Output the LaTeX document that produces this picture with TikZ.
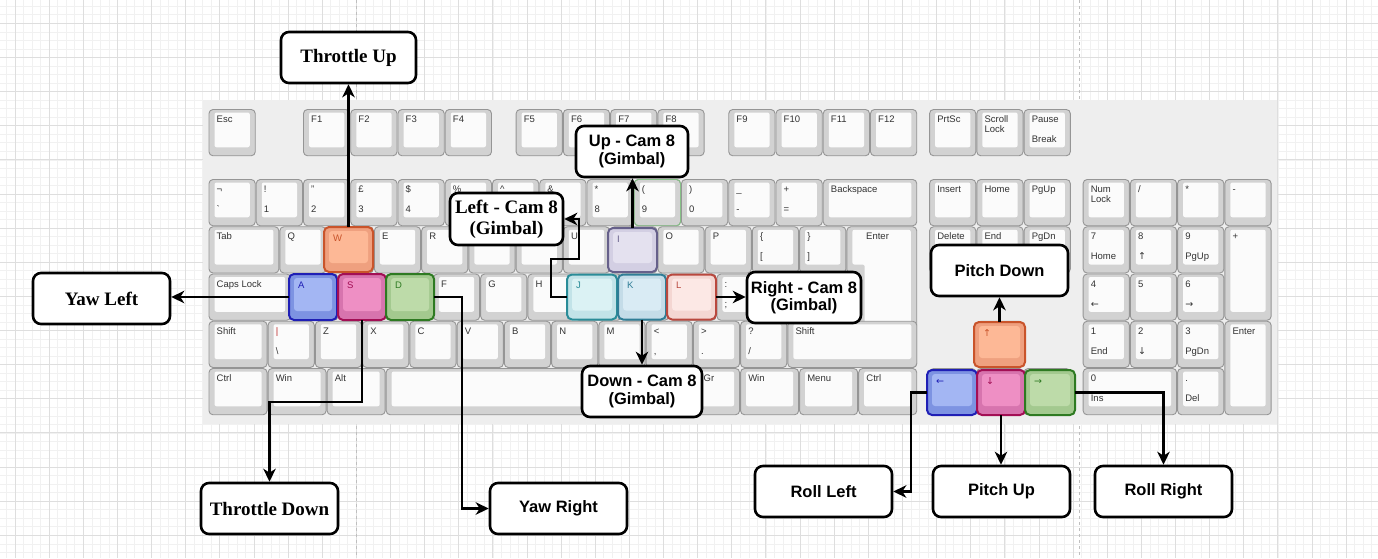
\documentclass[tikz,border=0pt]{standalone}
\usepackage{fontspec}
\setmainfont{Liberation Sans}
\newfontfamily\serifb{Liberation Serif}
\newfontfamily\arrfont{DejaVu Sans}
\usetikzlibrary{arrows.meta}
\definecolor{gmin}{HTML}{F1F1F1}
\definecolor{gmaj}{HTML}{DEDEDE}
\definecolor{kbbg}{HTML}{EEEEEE}
\definecolor{kfill}{HTML}{D2D2D2}
\definecolor{kline}{HTML}{959595}
\definecolor{kwhite}{HTML}{FBFBFB}
\definecolor{ktext}{HTML}{333333}
% highlight palettes
\definecolor{orB}{HTML}{C9542B}\definecolor{orO}{HTML}{EFA07F}\definecolor{orI}{HTML}{FDB896}
\definecolor{blB}{HTML}{1F1FB5}\definecolor{blO}{HTML}{7D93E2}\definecolor{blI}{HTML}{A3B6F3}
\definecolor{piB}{HTML}{A30F55}\definecolor{piO}{HTML}{D774AE}\definecolor{piI}{HTML}{EE8FC4}
\definecolor{grB}{HTML}{2E7A22}\definecolor{grO}{HTML}{A3C98F}\definecolor{grI}{HTML}{BDDBA9}
\definecolor{laB}{HTML}{66608A}\definecolor{laO}{HTML}{D3CFE3}\definecolor{laI}{HTML}{E4E1EF}
\definecolor{cyB}{HTML}{2A8C98}\definecolor{cyO}{HTML}{C2E3E8}\definecolor{cyI}{HTML}{DBF2F4}
\definecolor{skB}{HTML}{2F7D96}\definecolor{skO}{HTML}{C4DCE8}\definecolor{skI}{HTML}{D9EBF4}
\definecolor{rsB}{HTML}{B9483E}\definecolor{rsO}{HTML}{F4D6D2}\definecolor{rsI}{HTML}{FCE8E5}
\definecolor{ninegreen}{HTML}{86C086}
\definecolor{pipered}{HTML}{C03030}

\tikzset{
  gminor/.style={draw=gmin, line width=0.6pt},
  gmajor/.style={draw=gmaj, line width=0.8pt},
  kout/.style={rounded corners=4pt, fill=kfill, draw=kline, line width=0.9pt},
  kin/.style={rounded corners=2pt, fill=kwhite},
  klbl/.style={anchor=base west, inner sep=0pt, text=ktext, font=\fontsize{9.5}{10}\selectfont},
  conn/.style={line width=2.3pt, -{Stealth[length=13pt,width=12.5pt,inset=4pt]}},
  cbox/.style={draw=black, line width=2.6pt, rounded corners=8pt, fill=white, inner sep=0pt, align=center},
  sansb/.style={font=\fontsize{16.5}{17.5}\selectfont\bfseries},
  serb/.style={font=\serifb\bfseries\fontsize{19}{21}\selectfont},
}

% normal key: column (units), top y, width (units), height (units), top label, bottom label
\newcommand\K[6]{%
  \draw[kout] ({208.5+(#1)*47.25+0.5},{#2+0.5}) rectangle ({208.5+(#1+#3)*47.25-0.5},{#2+(#4)*47.25-0.5});
  \fill[kin] ({208.5+(#1)*47.25+6},{#2+3.5}) rectangle ({208.5+(#1+#3)*47.25-6},{#2+(#4)*47.25-9});
  \node[klbl] at ({208.5+(#1)*47.25+8},{#2+13.5}) {#5};
  \node[klbl] at ({208.5+(#1)*47.25+8},{#2+33.5}) {#6};}

% highlighted key: name, cx, cy, w, h, border, outer, inner, label
\newcommand\HK[9]{%
  \node[draw=#6, fill=#7, line width=2pt, rounded corners=5pt, minimum width=#4, minimum height=#5, inner sep=0pt, outer sep=0pt] (#1) at (#2,#3) {};
  \fill[#8, rounded corners=3pt] ([shift={(5,4)}]#1.north west) rectangle ([shift={(-5,-9)}]#1.south east);
  \node[klbl, text=#6] at ([shift={(9,14)}]#1.north west) {#9};}

\def\ra{109}
\def\rb{179}
\def\rc{226.25}
\def\rd{273.5}
\def\re{320.75}
\def\rf{368}

\begin{document}
\begin{tikzpicture}[x=1pt, y=-1pt]
\useasboundingbox (0,0) rectangle (1378,558);
\fill[white] (0,0) rectangle (1378,558);
% grid
\foreach \i in {0,...,160} \draw[gminor] ({6.47+\i*8.533},0) -- ++(0,558);
\foreach \i in {0,...,64} \draw[gminor] (0,{6.24+\i*8.533}) -- ++(1378,0);
\foreach \i in {0,...,39} \draw[gmajor] ({15+\i*34.13},0) -- ++(0,558);
\foreach \i in {0,...,15} \draw[gmajor] (0,{23.3+\i*34.13}) -- ++(1378,0);
% page break lines
\draw[draw=black!25, line width=0.8pt, dash pattern=on 3pt off 3pt] (356.7,0) -- (356.7,558);
\draw[draw=black!25, line width=0.8pt, dash pattern=on 3pt off 3pt] (1079,0) -- (1079,558);

% keyboard background
\fill[kbbg] (203,100) rectangle (1277,423.5);

% ---- function row
\K{0}{\ra}{1}{1}{Esc}{}
\K{2}{\ra}{1}{1}{F1}{}
\K{3}{\ra}{1}{1}{F2}{}
\K{4}{\ra}{1}{1}{F3}{}
\K{5}{\ra}{1}{1}{F4}{}
\K{6.5}{\ra}{1}{1}{F5}{}
\K{7.5}{\ra}{1}{1}{F6}{}
\K{8.5}{\ra}{1}{1}{F7}{}
\K{9.5}{\ra}{1}{1}{F8}{}
\K{11}{\ra}{1}{1}{F9}{}
\K{12}{\ra}{1}{1}{F10}{}
\K{13}{\ra}{1}{1}{F11}{}
\K{14}{\ra}{1}{1}{F12}{}
\K{15.25}{\ra}{1}{1}{PrtSc}{}
\K{16.25}{\ra}{1}{1}{Scroll}{}
\node[klbl] at ({208.5+16.25*47.25+8},{\ra+23.5}) {Lock};
\K{17.25}{\ra}{1}{1}{Pause}{Break}

% ---- number row
\K{0}{\rb}{1}{1}{¬}{\textasciigrave}
\K{1}{\rb}{1}{1}{!}{1}
\K{2}{\rb}{1}{1}{"}{2}
\K{3}{\rb}{1}{1}{£}{3}
\K{4}{\rb}{1}{1}{\$}{4}
\K{5}{\rb}{1}{1}{\%}{}
\K{6}{\rb}{1}{1}{\textasciicircum}{}
\K{7}{\rb}{1}{1}{\&}{}
\K{8}{\rb}{1}{1}{*}{8}
\K{9}{\rb}{1}{1}{(}{9}
\draw[rounded corners=4pt, draw=ninegreen, line width=0.9pt] ({208.5+9*47.25+0.5},{\rb+0.5}) rectangle ({208.5+10*47.25-0.5},{\rb+47.25-0.5});
\K{10}{\rb}{1}{1}{)}{0}
\K{11}{\rb}{1}{1}{\_}{-}
\K{12}{\rb}{1}{1}{+}{=}
\K{13}{\rb}{2}{1}{Backspace}{}
\K{15.25}{\rb}{1}{1}{Insert}{}
\K{16.25}{\rb}{1}{1}{Home}{}
\K{17.25}{\rb}{1}{1}{PgUp}{}
\K{18.5}{\rb}{1}{1}{Num}{}
\node[klbl] at ({208.5+18.5*47.25+8},{\rb+23.5}) {Lock};
\K{19.5}{\rb}{1}{1}{/}{}
\K{20.5}{\rb}{1}{1}{*}{}
\K{21.5}{\rb}{1}{1}{-}{}

% ---- tab row
\K{0}{\rc}{1.5}{1}{Tab}{}
\K{1.5}{\rc}{1}{1}{Q}{}
\K{2.5}{\rc}{1}{1}{}{}
\K{3.5}{\rc}{1}{1}{E}{}
\K{4.5}{\rc}{1}{1}{R}{}
\K{5.5}{\rc}{1}{1}{}{}
\K{6.5}{\rc}{1}{1}{}{}
\K{7.5}{\rc}{1}{1}{U}{}
\K{8.5}{\rc}{1}{1}{}{}
\K{9.5}{\rc}{1}{1}{O}{}
\K{10.5}{\rc}{1}{1}{P}{}
\K{11.5}{\rc}{1}{1}{\{}{[}
\K{12.5}{\rc}{1}{1}{\}}{]}
% ISO enter
\draw[kout] (846.9,226.75) -- (916.75,226.75) -- (916.75,367.5) -- (858.7,367.5) -- (858.7,273.5) -- (846.9,273.5) -- cycle;
\fill[kin] (852.4,229.75) -- (910.75,229.75) -- (910.75,359) -- (864.7,359) -- (864.7,264.5) -- (852.4,264.5) -- cycle;
\node[klbl] at (866,239.75) {Enter};
\K{15.25}{\rc}{1}{1}{Delete}{}
\K{16.25}{\rc}{1}{1}{End}{}
\K{17.25}{\rc}{1}{1}{PgDn}{}
\K{18.5}{\rc}{1}{1}{7}{Home}
\K{19.5}{\rc}{1}{1}{8}{{\arrfont ↑}}
\K{20.5}{\rc}{1}{1}{9}{PgUp}
\K{21.5}{\rc}{1}{2}{+}{}

% ---- caps row
\K{0}{\rd}{1.75}{1}{Caps Lock}{}
\K{1.75}{\rd}{1}{1}{}{}
\K{2.75}{\rd}{1}{1}{}{}
\K{3.75}{\rd}{1}{1}{}{}
\K{4.75}{\rd}{1}{1}{F}{}
\K{5.75}{\rd}{1}{1}{G}{}
\K{6.75}{\rd}{1}{1}{H}{}
\K{7.75}{\rd}{1}{1}{}{}
\K{8.75}{\rd}{1}{1}{}{}
\K{9.75}{\rd}{1}{1}{}{}
\K{10.75}{\rd}{1}{1}{:}{;}
\K{11.75}{\rd}{1}{1}{}{}
\K{12.75}{\rd}{1}{1}{}{}
\K{18.5}{\rd}{1}{1}{4}{{\arrfont ←}}
\K{19.5}{\rd}{1}{1}{5}{}
\K{20.5}{\rd}{1}{1}{6}{{\arrfont →}}

% ---- shift row
\K{0}{\re}{1.25}{1}{Shift}{}
\K{1.25}{\re}{1}{1}{\textcolor{pipered}{|}}{\textbackslash}
\K{2.25}{\re}{1}{1}{Z}{}
\K{3.25}{\re}{1}{1}{X}{}
\K{4.25}{\re}{1}{1}{C}{}
\K{5.25}{\re}{1}{1}{V}{}
\K{6.25}{\re}{1}{1}{B}{}
\K{7.25}{\re}{1}{1}{N}{}
\K{8.25}{\re}{1}{1}{M}{}
\K{9.25}{\re}{1}{1}{<}{,}
\K{10.25}{\re}{1}{1}{>}{.}
\K{11.25}{\re}{1}{1}{?}{/}
\K{12.25}{\re}{2.75}{1}{Shift}{}
\K{16.25}{\re}{1}{1}{}{}
\K{18.5}{\re}{1}{1}{1}{End}
\K{19.5}{\re}{1}{1}{2}{{\arrfont ↓}}
\K{20.5}{\re}{1}{1}{3}{PgDn}
\K{21.5}{\re}{1}{2}{Enter}{}

% ---- bottom row
\K{0}{\rf}{1.25}{1}{Ctrl}{}
\K{1.25}{\rf}{1.25}{1}{Win}{}
\K{2.5}{\rf}{1.25}{1}{Alt}{}
\K{3.75}{\rf}{6.25}{1}{}{}
\K{10}{\rf}{1.25}{1}{}{}
\node[klbl] at (703.5,381.5) {Gr};
\K{11.25}{\rf}{1.25}{1}{Win}{}
\K{12.5}{\rf}{1.25}{1}{Menu}{}
\K{13.75}{\rf}{1.25}{1}{Ctrl}{}
\K{15.25}{\rf}{1}{1}{}{}
\K{16.25}{\rf}{1}{1}{}{}
\K{17.25}{\rf}{1}{1}{}{}
\K{18.5}{\rf}{2}{1}{0}{Ins}
\K{20.5}{\rf}{1}{1}{.}{Del}

% ---- highlighted keys
\HK{kW}{348.5}{249.5}{49}{45}{orB}{orO}{orI}{W}
\HK{kA}{313}{297}{48}{46}{blB}{blO}{blI}{A}
\HK{kS}{362}{297}{48}{46}{piB}{piO}{piI}{S}
\HK{kD}{410}{297}{48}{46}{grB}{grO}{grI}{D}
\HK{kI}{632.5}{250}{49}{44}{laB}{laO}{laI}{I}
\HK{kJ}{592}{297}{50}{45}{cyB}{cyO}{cyI}{J}
\HK{kK}{642}{297}{48}{45}{skB}{skO}{skI}{K}
\HK{kL}{691.5}{297}{49}{45}{rsB}{rsO}{rsI}{L}
\HK{kUp}{999.5}{344.5}{51}{45}{orB}{orO}{orI}{{\arrfont ↑}}
\HK{kLeft}{952}{392.5}{50}{45}{blB}{blO}{blI}{{\arrfont ←}}
\HK{kDown}{1001}{392.5}{48}{45}{piB}{piO}{piI}{{\arrfont ↓}}
\HK{kRight}{1050}{392.5}{50}{45}{grB}{grO}{grI}{{\arrfont →}}

% ---- callout boxes
\node[cbox, serb, minimum width=135, minimum height=51] (tu) at (348.5,57.5) {Throttle Up};
\node[cbox, serb, minimum width=137, minimum height=51] (yl) at (101.5,298.5) {Yaw Left};
\node[cbox, serb, minimum width=137, minimum height=51] (td) at (269.5,508.5) {Throttle Down};
\node[cbox, sansb, minimum width=137, minimum height=51] (yr) at (558.5,508.5) {Yaw Right};
\node[cbox, sansb, minimum width=137, minimum height=51] (rl) at (823.5,491.5) {Roll Left};
\node[cbox, sansb, minimum width=137, minimum height=51] (pu) at (1001.5,491.5) {Pitch Up};
\node[cbox, sansb, minimum width=137, minimum height=51] (rr) at (1163.5,491.5) {Roll Right};
\node[cbox, sansb, minimum width=137, minimum height=51] (pd) at (999.5,270.5) {Pitch Down};
\node[cbox, sansb, minimum width=112, minimum height=51] (uc) at (632,151.5) {Up - Cam 8\\(Gimbal)};
\node[cbox, serb, minimum width=113, minimum height=52] (lc) at (506.5,219) {Left - Cam 8\\(Gimbal)};
\node[cbox, sansb, minimum width=114, minimum height=51] (rc) at (804,297.5) {Right - Cam 8\\(Gimbal)};
\node[cbox, sansb, minimum width=120, minimum height=51] (dc) at (642,391.5) {Down - Cam 8\\(Gimbal)};

% ---- connectors
\coordinate (sbend) at (362,402);
\coordinate (dbend) at (462,297);
\coordinate (jb1) at (551,297);
\coordinate (jb2) at (579,259);
\coordinate (lbend) at (911,392.5);

\draw[conn] (kW.north) -- (kW.north |- tu.south);
\draw[conn] (kA.west) -- (kA.west -| yl.east);
\draw[conn] (kS.south) -- (sbend) -| (td.north);
\draw[conn] (kD.east) -- (dbend) |- (yr.west);
\draw[conn] (kI.north) -- (kI.north |- uc.south);
\draw[conn] (kJ.west) -- (jb1) |- (jb2) |- (lc.east);
\draw[conn] (kK.south) -- (kK.south |- dc.north);
\draw[conn] (kL.east) -- (kL.east -| rc.west);
\draw[conn] (kUp.north) -- (kUp.north |- pd.south);
\draw[conn] (kLeft.west) -- (lbend) |- (rl.east);
\draw[conn] (kDown.south) -- (kDown.south |- pu.north);
\draw[conn] (kRight.east) -| (rr.north);
\end{tikzpicture}
\end{document}
